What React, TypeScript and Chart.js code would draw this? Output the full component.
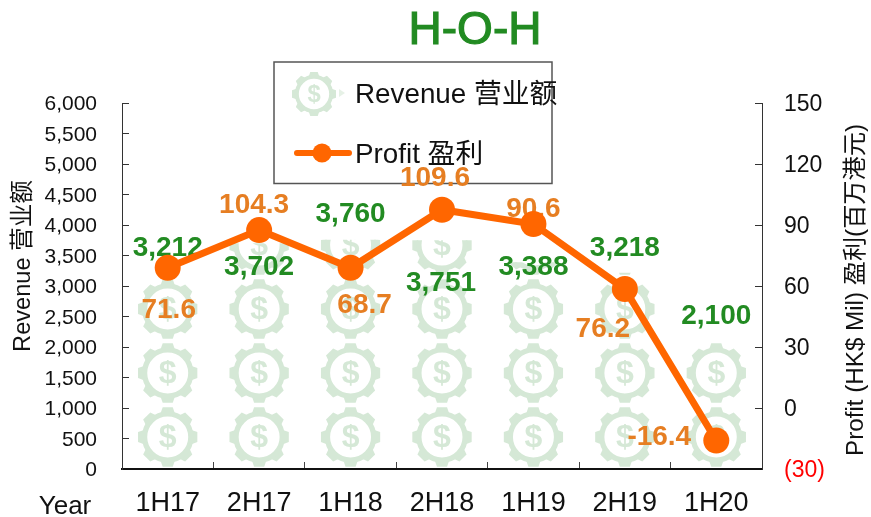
import React, { useEffect, useRef } from "react";
import { Chart, registerables } from "chart.js";

Chart.register(...registerables);

const categories = ["1H17", "2H17", "1H18", "2H18", "1H19", "2H19", "1H20"];
const revenue = [3212, 3702, 3760, 3751, 3388, 3218, 2100];
const profitPlotted = [69, 87.5, 69, 97.5, 90.5, 58.5, -16];
const profitLabels = ["71.6", "104.3", "68.7", "109.6", "90.6", "76.2", "-16.4"];
const revenueTicksMax = 6000;

const FONT = '"Liberation Sans", "Noto Sans CJK SC", sans-serif';
const GEAR = "#d5e8d6";
const GREEN = "#228b22";
const ORANGE = "#e67e22";
const LINE = "#ff6600";
const ICON_UNITS = 1049;

const revOffsets = [[0, -19], [0, 37], [0, -53], [-1, 74], [0, 43], [0, -41], [0, -124]];
const profitOffsets = [[1, 43], [-5, -25], [14, 38], [-7, -31], [0, -15], [-22, 40], [-57, -3]];

function drawGear(ctx: CanvasRenderingContext2D, cx: number, cy: number, r: number) {
  ctx.save();
  ctx.translate(cx, cy);
  ctx.fillStyle = GEAR;
  ctx.strokeStyle = GEAR;
  for (let i = 0; i < 8; i++) {
    ctx.save();
    ctx.rotate((i * Math.PI) / 4);
    ctx.beginPath();
    ctx.moveTo(-r * 0.24, -r * 0.8);
    ctx.lineTo(-r * 0.17, -r);
    ctx.lineTo(r * 0.17, -r);
    ctx.lineTo(r * 0.24, -r * 0.8);
    ctx.closePath();
    ctx.fill();
    ctx.restore();
  }
  const ro = r * 0.87;
  const ri = r * 0.69;
  ctx.lineWidth = ro - ri;
  ctx.beginPath();
  ctx.arc(0, 0, (ro + ri) / 2, 0, Math.PI * 2);
  ctx.stroke();
  ctx.font = `bold ${r * 1.08}px ${FONT}`;
  ctx.textAlign = "center";
  ctx.textBaseline = "middle";
  ctx.fillText("$", 0, r * 0.05);
  ctx.restore();
}

function text(ctx: CanvasRenderingContext2D, s: string, x: number, y: number, font: string, color: string, align: CanvasTextAlign = "center", rot = 0, stroke = 0) {
  ctx.save();
  ctx.translate(x, y);
  if (rot) ctx.rotate(rot);
  ctx.font = font;
  ctx.fillStyle = color;
  ctx.textAlign = align;
  ctx.textBaseline = "middle";
  ctx.fillText(s, 0, 0);
  if (stroke) {
    ctx.strokeStyle = color;
    ctx.lineWidth = stroke;
    ctx.strokeText(s, 0, 0);
  }
  ctx.restore();
}

const overlay = {
  id: "overlay",
  beforeDatasetsDraw(chart: any) {
    const { ctx } = chart;
    ctx.save();
    ctx.strokeStyle = "#555";
    ctx.lineWidth = 1.5;
    ctx.fillStyle = "#fff";
    ctx.beginPath();
    ctx.rect(274, 62, 278, 121.5);
    ctx.fill();
    ctx.stroke();
    ctx.restore();
    drawGear(ctx, 314, 94, 22);
    ctx.save();
    ctx.fillStyle = GEAR;
    ctx.globalAlpha = 0.6;
    ctx.beginPath();
    ctx.moveTo(339, 89);
    ctx.lineTo(345, 93);
    ctx.lineTo(339, 97);
    ctx.fill();
    ctx.restore();
    ctx.save();
    ctx.strokeStyle = LINE;
    ctx.lineWidth = 6;
    ctx.lineCap = "round";
    ctx.beginPath();
    ctx.moveTo(297, 153);
    ctx.lineTo(349, 153);
    ctx.stroke();
    ctx.fillStyle = LINE;
    ctx.beginPath();
    ctx.arc(322, 153, 9.5, 0, Math.PI * 2);
    ctx.fill();
    ctx.restore();
    text(ctx, "Revenue 营业额", 355, 95, `27.8px ${FONT}`, "#111", "left");
    text(ctx, "Profit 盈利", 355, 155, `27.8px ${FONT}`, "#111", "left");
  },
  afterDatasetDraw(chart: any, args: any) {
    if (args.index !== 0) return;
    const { ctx } = chart;
    const y = chart.scales.y;
    const bars = chart.getDatasetMeta(0).data;
    const step = Math.abs(y.getPixelForValue(0) - y.getPixelForValue(ICON_UNITS));
    bars.forEach((bar: any) => {
      const base = y.getPixelForValue(0);
      ctx.save();
      ctx.beginPath();
      ctx.rect(bar.x - bar.width / 2, bar.y, bar.width, base - bar.y);
      ctx.clip();
      for (let cy = base - step / 2; cy + step / 2 > bar.y; cy -= step) {
        drawGear(ctx, bar.x, cy, bar.width / 2 - 0.5);
      }
      ctx.restore();
    });
    const pts = chart.getDatasetMeta(1).data;
    pts.forEach((pt: any, i: number) => {
      const boldFont = `bold 28px ${FONT}`;
      text(ctx, revenue[i].toLocaleString("en-US"), pt.x + revOffsets[i][0], pt.y + revOffsets[i][1], boldFont, GREEN);
      text(ctx, profitLabels[i], pt.x + profitOffsets[i][0], pt.y + profitOffsets[i][1], boldFont, ORANGE);
    });
  },
  afterDraw(chart: any) {
    const { ctx } = chart;
    text(ctx, "H-O-H", 475, 31, `46px ${FONT}`, GREEN, "center", 0, 1.2);
    text(ctx, "Revenue 营业额", 23, 266, `23.6px ${FONT}`, "#111", "center", -Math.PI / 2);
    text(ctx, "Profit (HK$ Mil) 盈利(百万港元)", 856, 290, `24.2px ${FONT}`, "#111", "center", -Math.PI / 2);
    text(ctx, "Year", 65, 507, `26px ${FONT}`, "#111");
  },
};

export default function App() {
  const ref = useRef<HTMLCanvasElement>(null);
  useEffect(() => {
    const chart = new Chart(ref.current!, {
      type: "bar",
      data: {
        labels: categories,
        datasets: [
          {
            type: "bar",
            label: "Revenue 营业额",
            data: revenue,
            yAxisID: "y",
            order: 1,
            backgroundColor: "rgba(0,0,0,0)",
            barPercentage: 0.66,
            categoryPercentage: 1,
          },
          {
            type: "line",
            label: "Profit 盈利",
            data: profitPlotted,
            yAxisID: "y1",
            order: 0,
            borderColor: LINE,
            backgroundColor: LINE,
            borderWidth: 7,
            pointRadius: 13,
            pointBackgroundColor: LINE,
            pointBorderWidth: 0,
            tension: 0,
          },
        ],
      } as any,
      options: {
        animation: false,
        responsive: false,
        layout: { padding: { top: 103, left: 0, right: 0, bottom: 0 } },
        plugins: { legend: { display: false }, tooltip: { enabled: false }, title: { display: false } },
        scales: {
          x: {
            afterFit: (s: any) => { s.height = 48; },
            grid: { drawOnChartArea: false, drawTicks: true, tickLength: -7, color: "#444" },
            border: { display: true, color: "#111", width: 2 },
            ticks: { padding: 25, color: "#111", font: { size: 27, family: FONT }, maxRotation: 0 },
          },
          y: {
            position: "left",
            min: 0,
            max: revenueTicksMax,
            afterFit: (s: any) => { s.width = 122; },
            grid: { drawOnChartArea: false, tickLength: -7, color: "#333" },
            border: { display: true, color: "#333", width: 1 },
            ticks: {
              stepSize: 500,
              padding: 32,
              labelOffset: 1.5,
              color: "#111",
              font: { size: 21, family: FONT },
              callback: (v: any) => Number(v).toLocaleString("en-US"),
            },
          },
          y1: {
            position: "right",
            min: -30,
            max: 150,
            afterFit: (s: any) => { s.width = 109; },
            grid: { drawOnChartArea: false, tickLength: -7, color: "#333" },
            border: { display: true, color: "#333", width: 1 },
            ticks: {
              stepSize: 30,
              padding: 29,
              labelOffset: 2,
              font: { size: 23, family: FONT },
              color: (c: any) => (c.tick && c.tick.value < 0 ? "#ff0000" : "#111"),
              callback: (v: any) => (Number(v) < 0 ? `(${-Number(v)})` : String(v)),
            },
          },
        },
      } as any,
      plugins: [overlay],
    });
    return () => chart.destroy();
  }, []);
  return (
    <div style={{ position: "absolute", left: 0, top: 0, width: 871, height: 517 }}>
      <canvas ref={ref} width={871} height={517} style={{ display: "block" }} />
    </div>
  );
}
